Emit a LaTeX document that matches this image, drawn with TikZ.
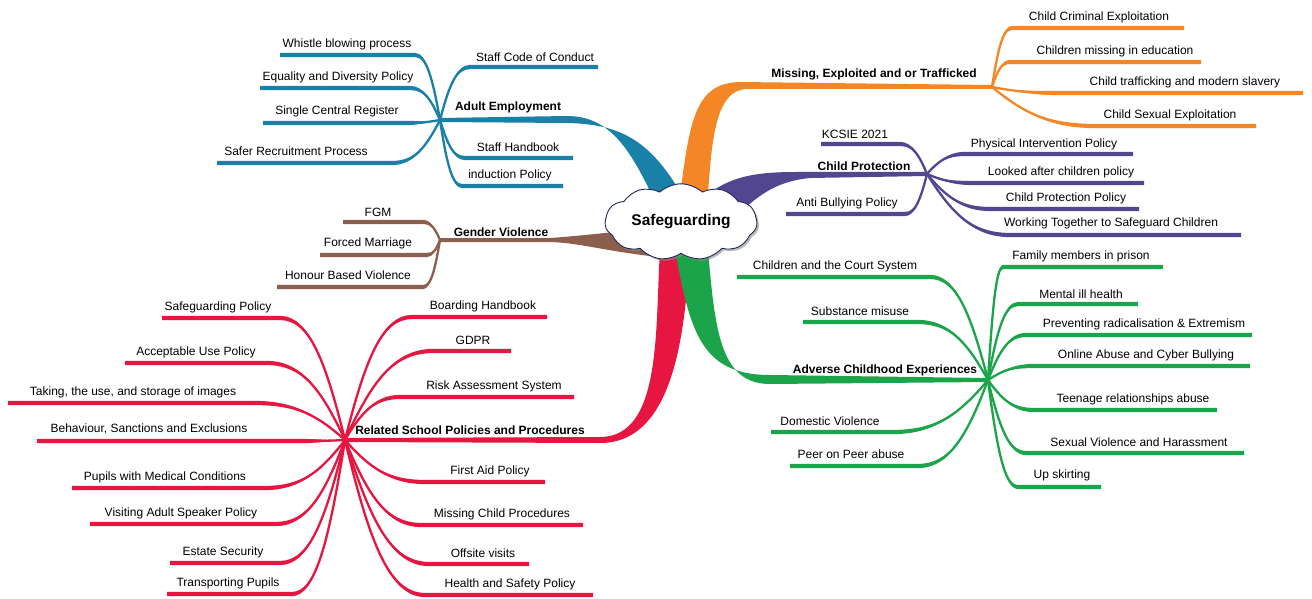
\documentclass[tikz,border=0pt]{standalone}
\usepackage{fontspec}
\setmainfont{Liberation Sans}
\usetikzlibrary{shapes.symbols,shadows}
\definecolor{cAE}{RGB}{25,128,168}
\definecolor{cME}{RGB}{245,134,38}
\definecolor{cCP}{RGB}{82,70,145}
\definecolor{cGV}{RGB}{139,94,78}
\definecolor{cRS}{RGB}{230,22,64}
\definecolor{cAC}{RGB}{28,164,74}
\definecolor{cloudc}{RGB}{30,40,85}
\newcommand\mmlw{2.1}
% #1 name, #2 colour, #3 Nx, #4 Ny, #5 Fx, #6 tx, #7 ty, #8 text
\newcommand\mmleaf[8]{%
  \pgfmathsetmacro\mmcax{\hx+0.3*(#3-\hx)}%
  \pgfmathsetmacro\mmcay{\hy+0.65*(#4-\hy)}%
  \pgfmathsetmacro\mmcbx{#3-0.45*(#3-\hx)}%
  \pgfmathsetmacro\mmya{#4-\mmlw}%
  \pgfmathsetmacro\mmyb{#4+\mmlw}%
  \fill[#2] (\hub) .. controls (\mmcax,\mmcay) and (\mmcbx,\mmya) .. (#3,\mmya) -- (#5,\mmya) -- (#5,\mmyb) -- (#3,\mmyb) .. controls (\mmcbx,\mmyb) and (\mmcax,\mmcay) .. (\hub) -- cycle;
  \draw[#2, line width=2.3pt] (\hub) .. controls (\mmcax,\mmcay) and (\mmcbx,#4) .. (#3,#4);
  \node[lbl] (#1) at (#6,#7) {#8};
}
\tikzset{
  lbl/.style={font=\fontsize{12}{14}\selectfont, inner sep=1pt},
  hdr/.style={font=\bfseries\fontsize{12}{14}\selectfont, inner sep=1pt}
}
\begin{document}
\begin{tikzpicture}[x=1pt,y=-1pt]
\useasboundingbox (0,0) rectangle (1312,599);
\fill[white] (0,0) rectangle (1312,599);

% ---------- trunks ----------
\coordinate (hAE) at (440,120);
\coordinate (hME) at (992,87);
\coordinate (hCP) at (927,174);
\coordinate (hGV) at (440,240);
\coordinate (hRS) at (345,440);
\coordinate (hAC) at (988,380);

\fill[cAE] (440,118) -- (567,116) .. controls (610,116) and (630,150) .. (652,195) -- (682,195) .. controls (650,140) and (620,124) .. (567,123) -- (440,122) -- cycle;
\fill[cME] (680,195) .. controls (690,120) and (695,83) .. (740,82) -- (992,85) -- (992,89) -- (745,89) .. controls (718,92) and (712,130) .. (708,195) -- cycle;
\fill[cCP] (700,200) .. controls (725,180) and (745,172) .. (795,172) -- (927,172) -- (927,176) -- (810,178) .. controls (780,181) and (760,192) .. (735,218) -- cycle;
\fill[cGV] (440,238) -- (550,238) .. controls (580,236) and (600,233) .. (650,229) -- (650,256) .. controls (600,250) and (580,243) .. (550,242) -- (440,242) -- cycle;
\fill[cRS] (660,250) .. controls (655,330) and (662,437) .. (600,437) -- (345,438) -- (345,442) -- (600,443) .. controls (675,443) and (685,330) .. (690,250) -- cycle;
\fill[cAC] (675,250) .. controls (690,330) and (700,375) .. (770,375) -- (988,378) -- (988,382) -- (770,384) .. controls (720,384) and (715,330) .. (708,250) -- cycle;

% ---------- Adult Employment ----------
\def\hx{440}\def\hy{120}\def\hub{hAE}
\mmleaf{ae1}{cAE}{415}{55}{280}{347}{44}{Whistle blowing process}
\mmleaf{ae2}{cAE}{410}{88}{260}{338}{77}{Equality and Diversity Policy}
\mmleaf{ae3}{cAE}{405}{123}{263}{337}{111}{Single Central Register}
\mmleaf{ae4}{cAE}{392}{163}{217}{296}{151}{Safer Recruitment Process}
\mmleaf{ae5}{cAE}{470}{67}{598}{535}{57}{Staff Code of Conduct}
\mmleaf{ae6}{cAE}{465}{158}{573}{518}{147}{Staff Handbook}
\mmleaf{ae7}{cAE}{462}{186}{563}{510}{175}{induction Policy}

% ---------- Missing, Exploited ----------
\def\hx{992}\def\hy{87}\def\hub{hME}
\mmleaf{me1}{cME}{1012}{28}{1184}{1099}{17}{Child Criminal Exploitation}
\mmleaf{me2}{cME}{1010}{62}{1201}{1115}{51}{Children missing in education}
\mmleaf{me3}{cME}{1060}{93}{1303}{1185}{82}{Child trafficking and modern slavery}
\mmleaf{me4}{cME}{1095}{126}{1256}{1170}{115}{Child Sexual Exploitation}

% ---------- Child Protection ----------
\def\hx{927}\def\hy{174}\def\hub{hCP}
\mmleaf{cp1}{cCP}{900}{144}{821}{855}{134}{KCSIE 2021}
\mmleaf{cp2}{cCP}{905}{214}{786}{847}{203}{Anti Bullying Policy}
\mmleaf{cp3}{cCP}{965}{154}{1133}{1044}{144}{Physical Intervention Policy}
\mmleaf{cp4}{cCP}{972}{183}{1144}{1061}{172}{Looked after children policy}
\mmleaf{cp5}{cCP}{990}{209}{1139}{1066}{198}{Child Protection Policy}
\mmleaf{cp6}{cCP}{1010}{235}{1241}{1111}{223}{Working Together to Safeguard Children}

% ---------- Gender Violence ----------
\def\hx{440}\def\hy{240}\def\hub{hGV}
\mmleaf{gv1}{cGV}{423}{222}{343}{378}{212}{FGM}
\mmleaf{gv2}{cGV}{427}{255}{320}{368}{243}{Forced Marriage}
\mmleaf{gv3}{cGV}{423}{287}{277}{348}{275}{Honour Based Violence}

% ---------- Related School Policies ----------
\def\hx{345}\def\hy{440}\def\hub{hRS}
\mmleaf{rs1}{cRS}{280}{318}{162}{218}{307}{Safeguarding Policy}
\mmleaf{rs2}{cRS}{267}{363}{125}{196}{352}{Acceptable Use Policy}
\mmleaf{rs3}{cRS}{255}{403}{8}{133}{392}{Taking, the use, and storage of images}
\mmleaf{rs4}{cRS}{300}{441}{37}{149}{429}{Behaviour, Sanctions and Exclusions}
\mmleaf{rs5}{cRS}{265}{488}{72}{165}{477}{Pupils with Medical Conditions}
\mmleaf{rs6}{cRS}{276}{524}{90}{181}{513}{Visiting Adult Speaker Policy}
\mmleaf{rs7}{cRS}{280}{563}{170}{223}{552}{Estate Security}
\mmleaf{rs8}{cRS}{292}{594}{167}{228}{583}{Transporting Pupils}
\mmleaf{rs9}{cRS}{412}{317}{547}{483}{306}{Boarding Handbook}
\mmleaf{rs10}{cRS}{433}{351}{511}{473}{340}{GDPR}
\mmleaf{rs11}{cRS}{400}{397}{574}{494}{386}{Risk Assessment System}
\mmleaf{rs12}{cRS}{425}{482}{545}{490}{471}{First Aid Policy}
\mmleaf{rs13}{cRS}{421}{525}{583}{502}{514}{Missing Child Procedures}
\mmleaf{rs14}{cRS}{429}{564}{529}{483}{553}{Offsite visits}
\mmleaf{rs15}{cRS}{425}{595}{593}{510}{584}{Health and Safety Policy}

% ---------- Adverse Childhood Experiences ----------
\def\hx{988}\def\hy{380}\def\hub{hAC}
\mmleaf{ac1}{cAC}{930}{277}{737}{835}{266}{Children and the Court System}
\mmleaf{ac2}{cAC}{918}{322}{803}{860}{311}{Substance misuse}
\mmleaf{ac3}{cAC}{893}{432}{771}{830}{421}{Domestic Violence}
\mmleaf{ac4}{cAC}{918}{466}{790}{851}{454}{Peer on Peer abuse}
\mmleaf{ac5}{cAC}{1003}{267}{1163}{1081}{256}{Family members in prison}
\mmleaf{ac6}{cAC}{1018}{304}{1138}{1081}{294}{Mental ill health}
\mmleaf{ac7}{cAC}{1026}{335}{1252}{1144}{324}{Preventing radicalisation \& Extremism}
\mmleaf{ac8}{cAC}{1034}{366}{1250}{1146}{355}{Online Abuse and Cyber Bullying}
\mmleaf{ac9}{cAC}{1034}{410}{1217}{1133}{399}{Teenage relationships abuse}
\mmleaf{ac10}{cAC}{1026}{453}{1244}{1139}{442}{Sexual Violence and Harassment}
\mmleaf{ac11}{cAC}{1018}{487}{1101}{1062}{475}{Up skirting}

% ---------- headers ----------
\node[hdr] (tAE) at (508,107) {Adult Employment};
\node[hdr] (tME) at (874,74) {Missing, Exploited and or Trafficked};
\node[hdr] (tCP) at (864,166) {Child Protection};
\node[hdr] (tGV) at (501,232) {Gender Violence};
\node[hdr] (tRS) at (470,430) {Related School Policies and Procedures};
\node[hdr] (tAC) at (885,370) {Adverse Childhood Experiences};

% ---------- central cloud ----------
\node[cloud, cloud puffs=11, cloud puff arc=85, aspect=2.2, draw=cloudc, fill=white, line width=0.9pt,
      minimum width=152pt, minimum height=70pt, inner sep=0pt,
      drop shadow={shadow xshift=2pt, shadow yshift=-2pt, fill=black!45, opacity=0.6},
      font=\bfseries\fontsize{15.5}{18}\selectfont] (root) at (681,222) {Safeguarding};
\end{tikzpicture}
\end{document}
